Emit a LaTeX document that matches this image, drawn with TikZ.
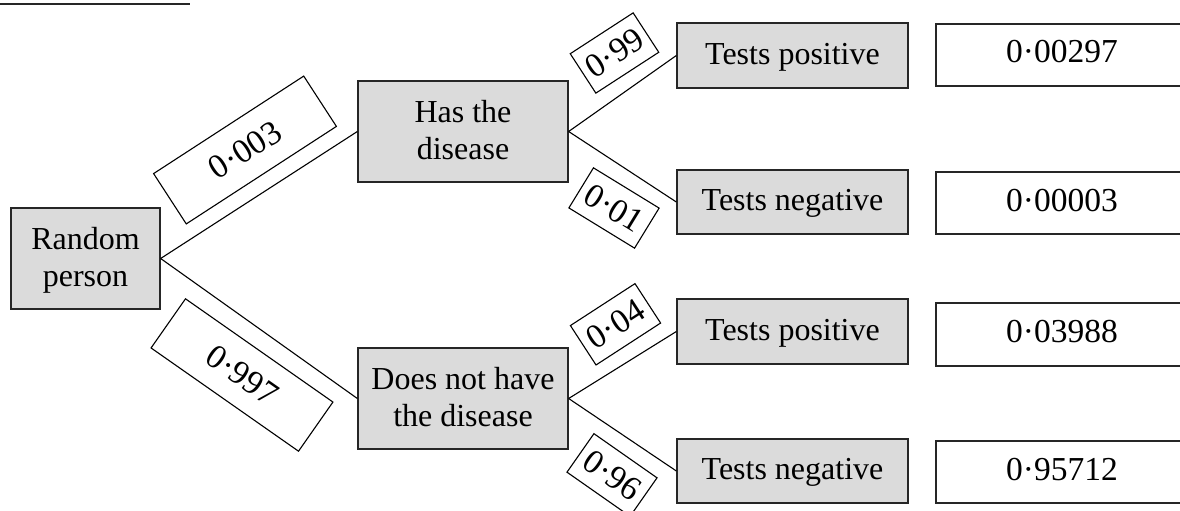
\documentclass[tikz,border=0pt]{standalone}
\usepackage{fontspec}
\setmainfont{Liberation Serif}
\begin{document}
\begin{tikzpicture}[x=1pt,y=-1pt,
  gbox/.style={draw=black!85,line width=1.3pt,fill=black!14,inner sep=0pt,align=center,
    font=\fontsize{32}{37}\selectfont},
  gtwo/.style={gbox,text height=59pt,text depth=3pt},
  gone/.style={gbox,text height=23.5pt,text depth=6.5pt},
  rbox/.style={draw=black!85,line width=1.3pt,fill=white,inner sep=0pt,
    text height=22pt,text depth=6pt,font=\fontsize{33.5}{38}\selectfont},
  lbl/.style={draw=black,line width=1.1pt,fill=white,inner sep=0pt,
    font=\fontsize{34}{38}\selectfont},
  conn/.style={draw=black,line width=1.1pt}]
\useasboundingbox (0,0) rectangle (1180,511);
% fragment of rule at top left
\coordinate (ruleA) at (0,4);
\coordinate (ruleB) at (190,4);
\draw[line width=2.2pt,black!85] (ruleA) -- (ruleB);
% tree nodes
\node[gtwo,minimum width=149pt,minimum height=101pt] (rp) at (85.5,258.5) {Random\\person};
\node[gtwo,minimum width=210pt,minimum height=101pt] (hd) at (463,131.5) {Has the\\disease};
\node[gtwo,minimum width=210pt,minimum height=101pt] (nd) at (463,398.5) {Does not have\\the disease};
\node[gone,minimum width=231pt,minimum height=65pt] (tp1) at (792.5,55.5) {Tests positive};
\node[gone,minimum width=231pt,minimum height=64pt] (tn1) at (792.5,202) {Tests negative};
\node[gone,minimum width=231pt,minimum height=65pt] (tp2) at (792.5,331.5) {Tests positive};
\node[gone,minimum width=231pt,minimum height=64pt] (tn2) at (792.5,471) {Tests negative};
% results
\node[rbox,minimum width=252pt,minimum height=62pt] (r1) at (1062,55) {0·00297};
\node[rbox,minimum width=252pt,minimum height=62pt] (r2) at (1062,203) {0·00003};
\node[rbox,minimum width=252pt,minimum height=63pt] (r3) at (1062,334.5) {0·03988};
\node[rbox,minimum width=252pt,minimum height=62pt] (r4) at (1062,472) {0·95712};
% connectors
\draw[conn] (rp.east) -- (hd.west);
\draw[conn] (rp.east) -- (nd.west);
\draw[conn] (hd.east) -- (tp1.west);
\draw[conn] (hd.east) -- (tn1.west);
\draw[conn] (nd.east) -- (tp2.west);
\draw[conn] (nd.east) -- (tn2.west);
% probability labels
\node[lbl,rotate=33,minimum width=179pt,minimum height=60pt] (l1) at (245,150) {0·003};
\node[lbl,rotate=-35,minimum width=180pt,minimum height=60pt] (l2) at (242,375) {0·997};
\node[lbl,rotate=33,minimum width=75pt,minimum height=47pt] (l3) at (614.5,53) {0·99};
\node[lbl,rotate=-31.5,minimum width=77pt,minimum height=47pt] (l4) at (614,208) {0·01};
\node[lbl,rotate=33,minimum width=77pt,minimum height=47pt] (l5) at (615.5,324.3) {0·04};
\node[lbl,rotate=-35,minimum width=77pt,minimum height=47pt] (l6) at (612,475) {0·96};
\end{tikzpicture}
\end{document}
